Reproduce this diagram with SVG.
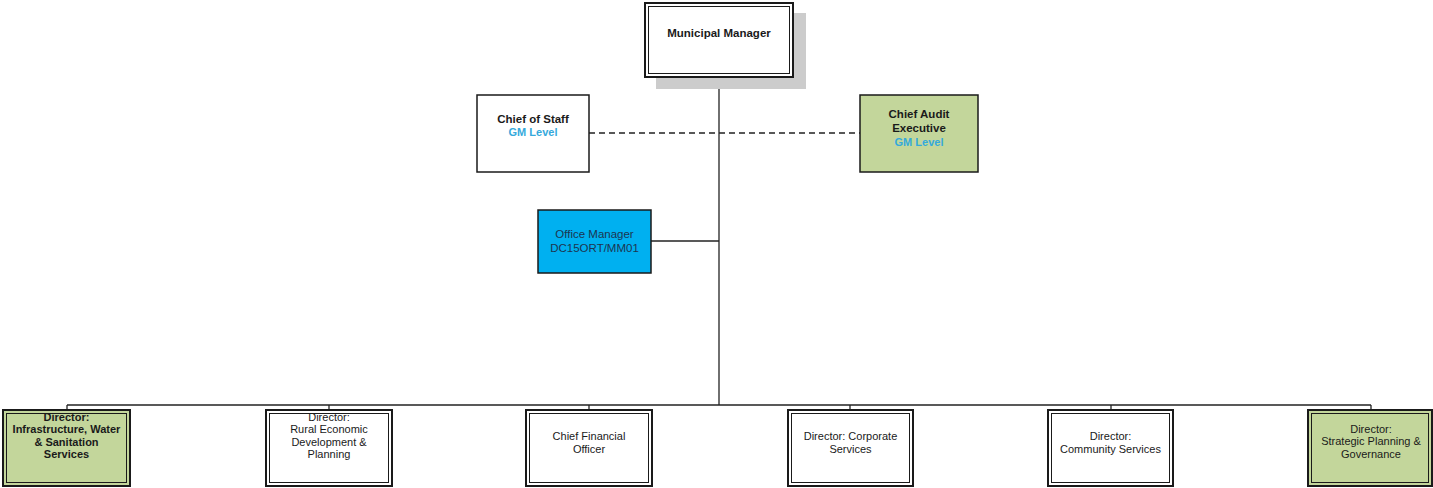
<svg xmlns="http://www.w3.org/2000/svg" width="1433" height="488" viewBox="0 0 1433 488">
  <style>
    .t { font-family: "Liberation Sans", Arial, sans-serif; text-anchor: middle; fill: #1a1a1a; }
    .b { font-weight: bold; }
    .d { font-size: 11px; }
    .gm { fill: #35a9dc; }
    .om { fill: #1d3550; }
    .outer { fill: none; stroke: #1a1a1a; stroke-width: 2; }
    .inner { fill: none; stroke: #1a1a1a; stroke-width: 1; }
    .single { stroke: #1a1a1a; stroke-width: 1.5; }
    .wire { stroke: #222; stroke-width: 1.3; fill: none; }
    .dash { stroke: #222; stroke-width: 1.5; stroke-dasharray: 6 4; fill: none; }
  </style>

  <rect width="1433" height="488" fill="#ffffff"/>

  <!-- connectors -->
  <g id="connectors">
    <line class="wire" x1="719" y1="77" x2="719" y2="405"/>
    <line class="wire" x1="651" y1="241" x2="719" y2="241"/>
    <line class="dash" x1="589" y1="133" x2="860" y2="133"/>
    <line class="wire" x1="67" y1="405" x2="1371" y2="405"/>
    <line class="wire" x1="67" y1="405" x2="67" y2="410"/>
    <line class="wire" x1="329" y1="405" x2="329" y2="410"/>
    <line class="wire" x1="589" y1="405" x2="589" y2="410"/>
    <line class="wire" x1="850" y1="405" x2="850" y2="410"/>
    <line class="wire" x1="1111" y1="405" x2="1111" y2="410"/>
    <line class="wire" x1="1371" y1="405" x2="1371" y2="410"/>
  </g>

  <!-- top -->
  <g id="municipal-manager">
    <rect x="656" y="13" width="150" height="76" fill="#cccccc"/>
    <rect x="645" y="3" width="148" height="74" fill="#ffffff"/>
    <rect class="outer" x="645" y="3" width="148" height="74"/>
    <rect class="inner" x="648.5" y="6.5" width="141" height="67"/>
    <text class="t b" x="719" y="37" font-size="11.5">Municipal Manager</text>
  </g>

  <g id="chief-of-staff">
    <rect class="single" x="477" y="95" width="112" height="77" fill="#ffffff"/>
    <text class="t b" x="533" y="123" font-size="11.5">Chief of Staff</text>
    <text class="t b gm" x="533" y="136" font-size="11">GM Level</text>
  </g>

  <g id="chief-audit-executive">
    <rect class="single" x="860" y="95" width="118" height="77" fill="#c3d69b"/>
    <text class="t b" x="919" y="118" font-size="11.5">Chief Audit</text>
    <text class="t b" x="919" y="132" font-size="11.5">Executive</text>
    <text class="t b gm" x="919" y="146" font-size="11">GM Level</text>
  </g>

  <g id="office-manager">
    <rect class="single" x="538" y="210" width="113" height="63" fill="#00b0f0"/>
    <text class="t om" x="594.5" y="238" font-size="11.5">Office Manager</text>
    <text class="t om" x="594.5" y="252" font-size="11.5">DC15ORT/MM01</text>
  </g>

  <!-- directors -->
  <g id="director-infrastructure">
    <rect x="3" y="410" width="127" height="76" fill="#c3d69b"/>
    <rect class="outer" x="3" y="410" width="127" height="76"/>
    <rect class="inner" x="6.5" y="413.5" width="120" height="69"/>
    <text class="t b d" x="66.5" y="421">Director:</text>
    <text class="t b d" x="66.5" y="433.3">Infrastructure, Water</text>
    <text class="t b d" x="66.5" y="445.6">&amp; Sanitation</text>
    <text class="t b d" x="66.5" y="457.9">Services</text>
  </g>

  <g id="director-rural">
    <rect x="266" y="410" width="126" height="76" fill="#ffffff"/>
    <rect class="outer" x="266" y="410" width="126" height="76"/>
    <rect class="inner" x="269.5" y="413.5" width="119" height="69"/>
    <text class="t d" x="329" y="421">Director:</text>
    <text class="t d" x="329" y="433.3">Rural Economic</text>
    <text class="t d" x="329" y="445.6">Development &amp;</text>
    <text class="t d" x="329" y="457.9">Planning</text>
  </g>

  <g id="chief-financial-officer">
    <rect x="526" y="410" width="126" height="76" fill="#ffffff"/>
    <rect class="outer" x="526" y="410" width="126" height="76"/>
    <rect class="inner" x="529.5" y="413.5" width="119" height="69"/>
    <text class="t d" x="589" y="440">Chief Financial</text>
    <text class="t d" x="589" y="452.5">Officer</text>
  </g>

  <g id="director-corporate">
    <rect x="788" y="410" width="125" height="76" fill="#ffffff"/>
    <rect class="outer" x="788" y="410" width="125" height="76"/>
    <rect class="inner" x="791.5" y="413.5" width="118" height="69"/>
    <text class="t d" x="850.5" y="440">Director: Corporate</text>
    <text class="t d" x="850.5" y="452.5">Services</text>
  </g>

  <g id="director-community">
    <rect x="1048" y="410" width="125" height="76" fill="#ffffff"/>
    <rect class="outer" x="1048" y="410" width="125" height="76"/>
    <rect class="inner" x="1051.5" y="413.5" width="118" height="69"/>
    <text class="t d" x="1110.5" y="440">Director:</text>
    <text class="t d" x="1110.5" y="452.5">Community Services</text>
  </g>

  <g id="director-strategic">
    <rect x="1308" y="410" width="124" height="76" fill="#c3d69b"/>
    <rect class="outer" x="1308" y="410" width="124" height="76"/>
    <rect class="inner" x="1311.5" y="413.5" width="117" height="69"/>
    <text class="t d" x="1371" y="433">Director:</text>
    <text class="t d" x="1371" y="445.3">Strategic Planning &amp;</text>
    <text class="t d" x="1371" y="457.6">Governance</text>
  </g>
</svg>
